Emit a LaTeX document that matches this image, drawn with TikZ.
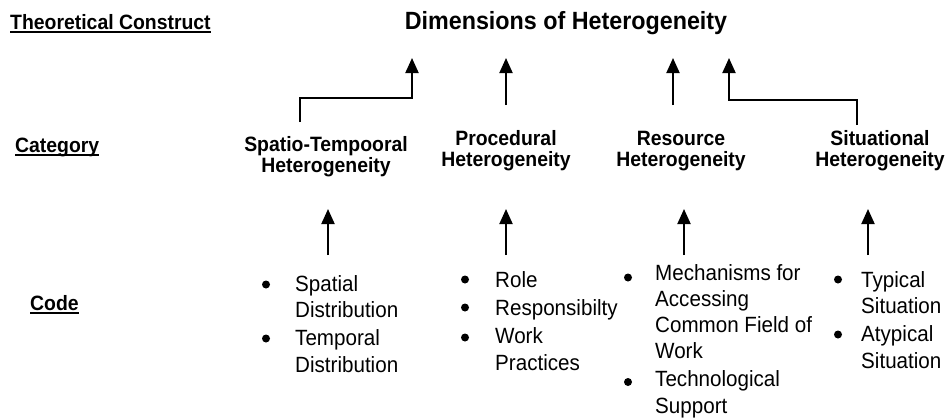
\documentclass[tikz,border=0pt]{standalone}
\usepackage{fontspec}
\setmainfont{Liberation Sans}
\usetikzlibrary{arrows.meta}
\begin{document}
\begin{tikzpicture}[x=1pt,y=-1pt,
  tall/.style={yscale=1.07},
  hdr/.style={tall, font=\fontsize{19.4}{20}\selectfont\bfseries, inner sep=0pt},
  ttl/.style={tall, font=\fontsize{23.3}{26}\selectfont\bfseries, inner sep=0pt},
  cat/.style={tall, font=\fontsize{19.4}{19}\selectfont\bfseries, inner sep=0pt, align=center},
  codelist/.style={tall, font=\fontsize{20.6}{24.5}\selectfont, inner sep=0pt, align=left},
  uline/.style={line width=2pt},
  arr/.style={line width=2pt, -{Triangle[length=15pt,width=13pt]}},
  bul/.style={fill=black}]
\useasboundingbox (0,0) rectangle (948,418);

% row labels
\node[hdr, anchor=base west] (tc) at (10,29) {Theoretical Construct};
\node[hdr, anchor=base west] (catlbl) at (15,152) {Category};
\node[hdr, anchor=base west] (codelbl) at (30,310) {Code};
\foreach \n in {tc,catlbl,codelbl}
  \draw[uline] ([yshift=-3pt]\n.base west) -- ([yshift=-3pt]\n.base east);

% construct
\node[ttl, anchor=base] (dim) at (566,29) {Dimensions of Heterogeneity};

% categories (base = baseline of the last line)
\node[cat, anchor=base] (spt) at (326,172) {Spatio-Tempooral\\Heterogeneity};
\node[cat, anchor=base] (pro) at (506,166) {Procedural\\Heterogeneity};
\node[cat, anchor=base] (res) at (681,166) {Resource\\Heterogeneity};
\node[cat, anchor=base] (sit) at (880,166) {Situational\\Heterogeneity};

% codes (base = baseline of the last line)
\node[codelist, anchor=base west] (c1) at (295,372)
  {Spatial\\Distribution\\[1.9pt]Temporal\\Distribution};
\node[codelist, anchor=base west] (c2) at (495,370)
  {Role\\[1.9pt]Responsibilty\\[1.9pt]Work\\Practices};
\node[codelist, anchor=base west] (c3) at (655,413)
  {Mechanisms for\\Accessing\\Common Field of\\Work\\[1.6pt]Technological\\Support};
\node[codelist, anchor=base west] (c4) at (861,368)
  {Typical\\Situation\\[1.9pt]Atypical\\Situation};

% bullets
\foreach \x/\y in {266/284.5, 266/338.5,
                   465/279.5, 465/307.5, 465/337.5,
                   628/277.5, 628/382,
                   838/279.5, 838/334.5}
  \fill[bul] (\x,\y) circle (4);

% arrows from categories up to the construct
\coordinate (s1) at (300,122); \coordinate (k1) at (300,98);  \coordinate (d1) at (412,58);
\coordinate (s2) at (506,105); \coordinate (d2) at (506,58);
\coordinate (s3) at (673,105); \coordinate (d3) at (673,58);
\coordinate (s4) at (857,125); \coordinate (k4) at (857,100); \coordinate (d4) at (729,58);
\draw[arr] (s1) -- (k1) -| (d1);
\draw[arr] (s2) -- (d2);
\draw[arr] (s3) -- (d3);
\draw[arr] (s4) -- (k4) -| (d4);

% arrows from codes up to the categories
\foreach \i/\x in {1/328, 2/506, 3/684, 4/868} {
  \coordinate (b\i) at (\x,255);
  \coordinate (t\i) at (\x,209);
  \draw[arr] (b\i) -- (t\i);
}
\end{tikzpicture}
\end{document}
